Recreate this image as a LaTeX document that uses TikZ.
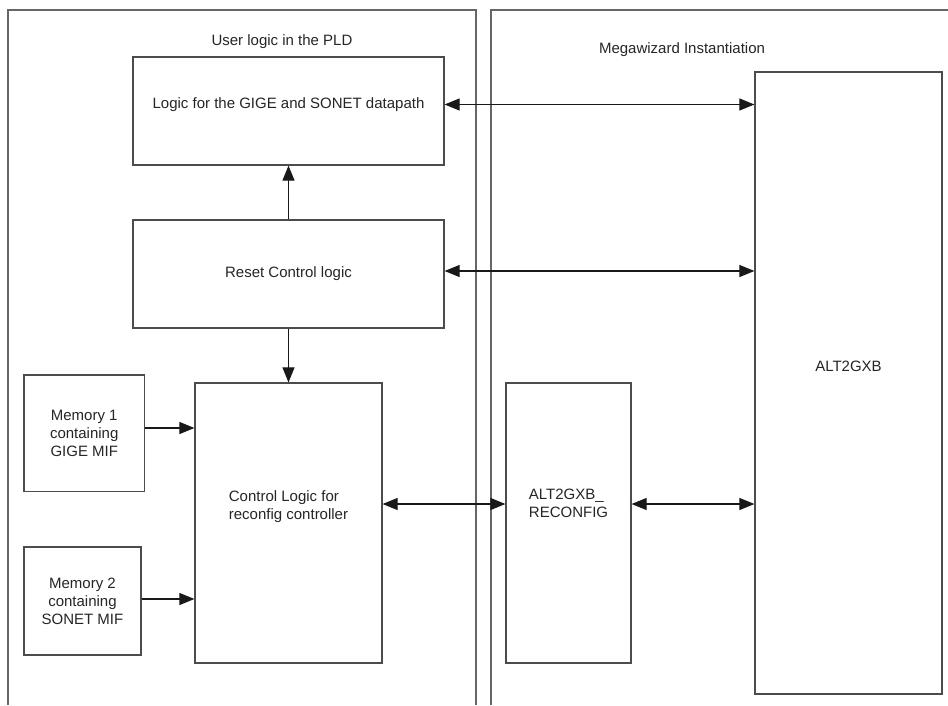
\documentclass[tikz,border=0pt]{standalone}
\usepackage{fontspec}
\setmainfont{Liberation Sans}
\usetikzlibrary{arrows.meta}
\begin{document}
\begin{tikzpicture}[x=1pt,y=-1pt,
  every node/.style={font=\fontsize{15pt}{18pt}\selectfont, text=black!85, inner sep=0pt},
  panel/.style={draw=black!60, line width=1.1pt},
  box/.style={draw=black!70, line width=1.2pt, fill=white},
  arr/.style={-{Triangle[length=15pt,width=12pt]}, line width=1.1pt, draw=black!90},
  darr/.style={{Triangle[length=15pt,width=12pt]}-{Triangle[length=15pt,width=12pt]}, line width=1.1pt, draw=black!90}]
\useasboundingbox (0,0) rectangle (948,705);
% panels
\draw[panel] (8,705) -- (8,10) -- (476,10) -- (476,705);
\draw[panel] (491,705) -- (491,10) -- (948,10);
\node (ulab) at (282,42) {User logic in the PLD};
\node (mlab) at (682,50) {Megawizard Instantiation};
% boxes
\node[box, minimum width=311pt, minimum height=108pt,
  label={[yshift=6pt]center:Logic for the GIGE and SONET datapath}] (logic) at (288.5,111) {};
\node[box, minimum width=311pt, minimum height=108pt] (reset) at (288.5,274) {Reset Control logic};
\node[box, minimum width=187pt, minimum height=280pt,
  label={[yshift=16pt, align=left]center:Control Logic for\\reconfig controller}] (ctrl) at (288.5,523) {};
\node[box, minimum width=120.5pt, minimum height=116.5pt, align=center] (mem1) at (84.25,433.25) {Memory 1\\containing\\GIGE MIF};
\node[box, minimum width=117pt, minimum height=108pt, align=center] (mem2) at (82.5,601) {Memory 2\\containing\\SONET MIF};
\node[box, minimum width=125pt, minimum height=280pt,
  label={[yshift=20pt, align=left]center:ALT2GXB\_\\RECONFIG}] (reconf) at (568.5,523) {};
\node[box, minimum width=187pt, minimum height=622pt,
  label={[yshift=17pt]center:ALT2GXB}] (alt) at (848.5,383) {};
% connectors
\draw[arr] (reset.north) -- (logic.south);
\draw[arr] (reset.south) -- (ctrl.north);
\draw[arr] (mem1.east |- 0,428) -- (ctrl.west |- 0,428);
\draw[arr] (mem2.east |- 0,599) -- (ctrl.west |- 0,599);
\draw[darr] (logic.east |- 0,104.5) -- (alt.west |- 0,104.5);
\draw[darr] (reset.east |- 0,271) -- (alt.west |- 0,271);
\draw[darr] (ctrl.east |- 0,504) -- (reconf.west |- 0,504);
\draw[darr] (reconf.east |- 0,504) -- (alt.west |- 0,504);
\end{tikzpicture}
\end{document}
